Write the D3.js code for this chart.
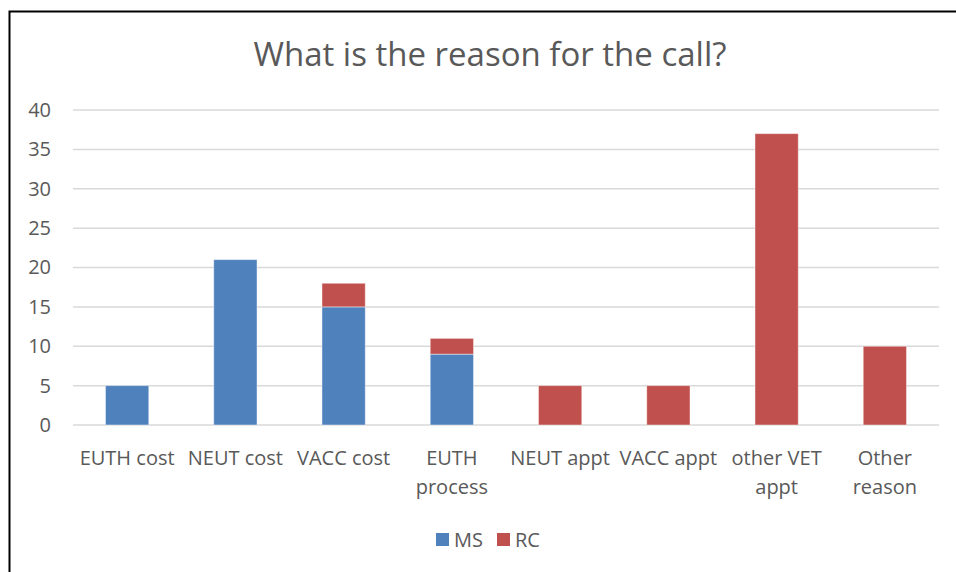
<!DOCTYPE html>
<html>
<head>
<meta charset="utf-8">
<script src="https://cdn.jsdelivr.net/npm/d3@7"></script>
<style>
  body { margin: 0; background: #fff; }
  text { font-family: "Open Sans", sans-serif; fill: #595959; }
</style>
</head>
<body>
<div id="chart"></div>
<script>
var categories = ["EUTH cost", "NEUT cost", "VACC cost", "EUTH process", "NEUT appt", "VACC appt", "other VET appt", "Other reason"];
var msValues = [5, 21, 15, 9, 0, 0, 0, 0];
var rcValues = [0, 0, 3, 2, 5, 5, 37, 10];
var seriesNames = ["MS", "RC"];
var yTicks = [0, 5, 10, 15, 20, 25, 30, 35, 40];

var color_ms = "#4F81BD"
var color_rc = "#C0504D"
var width = 956, height = 572;
var margin = {left: 73, right: 17, top: 110, bottom: 147};

var svg = d3.select("#chart")
    .append("svg")
    .attr("width", width)
    .attr("height", height)

// chart border, runs off the right and bottom edges
svg.append("rect")
    .attr("x", 9.5).attr("y", 11.5)
    .attr("width", 1000).attr("height", 600)
    .attr("fill", "none")
    .attr("stroke", "#000")
    .attr("stroke-width", 2)

svg.append("text")
    .attr("x", 490)
    .attr("y", 66)
    .attr("text-anchor", "middle")
    .style("font-size", "33px")
    .text("What is the reason for the call?")

var x = d3.scaleBand()
    .domain(categories)
    .range([margin.left, width - margin.right])
    .paddingInner(0.6)
    .paddingOuter(0.3)

var y = d3.scaleLinear()
    .domain([0, 40])
    .range([height - margin.bottom, margin.top])

//gridlines
svg.append("g")
    .selectAll("line")
    .data(yTicks)
    .enter()
    .append("line")
    .attr("x1", margin.left)
    .attr("x2", width - margin.right)
    .attr("y1", d => y(d))
    .attr("y2", d => y(d))
    .style("stroke", "#D9D9D9")
    .style("stroke-width", 1.5)

//y axis labels
var yAxis = d3.axisLeft(y).tickValues(yTicks).tickSize(0).tickPadding(0);
var gy = svg.append("g")
    .attr("transform", "translate(" + 51 + ",0)")
    .call(yAxis)
gy.select(".domain").remove()
gy.selectAll("text")
    .style("font-size", "20px")
    .style("font-family", "'Open Sans', sans-serif")
    .style("fill", "#595959")

//stacked bars
var table = categories.map((c, i) => ({cat: c, MS: msValues[i], RC: rcValues[i]}));
var stacked = d3.stack().keys(seriesNames)(table);
var colors = {MS: color_ms, RC: color_rc};

svg.selectAll("g.series")
    .data(stacked)
    .enter()
    .append("g")
    .classed("series", true)
    .style("fill", d => colors[d.key])
    .selectAll("rect")
    .data(d => d.filter(p => p[1] > p[0]))
    .enter()
    .append("rect")
    .attr("x", d => x(d.data.cat))
    .attr("width", x.bandwidth())
    .attr("y", d => y(d[1]))
    .attr("height", d => y(d[0]) - y(d[1]))
    .style("stroke", "#fff")
    .style("stroke-opacity", 0.45)
    .style("stroke-width", 1)

//category labels, wrapped to the band
var maxLabelWidth = x.step() - 4;
var labels = svg.append("g")
    .selectAll("text")
    .data(categories)
    .enter()
    .append("text")
    .attr("x", d => x(d) + x.bandwidth() / 2)
    .attr("y", 465)
    .attr("text-anchor", "middle")
    .style("font-size", "20px")

labels.each(function(d){
    let t = d3.select(this);
    let words = d.split(" ");
    let line = [];
    let tspan = t.append("tspan").attr("x", t.attr("x")).attr("dy", 0);
    words.forEach(w => {
        line.push(w);
        tspan.text(line.join(" "));
        if (tspan.node().getComputedTextLength() > maxLabelWidth && line.length > 1) {
            line.pop();
            tspan.text(line.join(" "));
            line = [w];
            tspan = t.append("tspan").attr("x", t.attr("x")).attr("dy", 29).text(w);
        }
    })
})

//legend
var legend = svg.append("g")
    .selectAll("g")
    .data(seriesNames)
    .enter()
    .append("g")
    .attr("transform", (d, i) => "translate(" + (436 + i * 61) + ",533)")

legend.append("rect")
    .attr("width", 13)
    .attr("height", 13)
    .style("fill", d => colors[d])

legend.append("text")
    .attr("x", 18)
    .attr("y", 14)
    .style("font-size", "20px")
    .text(d => d)
</script>
</body>
</html>
